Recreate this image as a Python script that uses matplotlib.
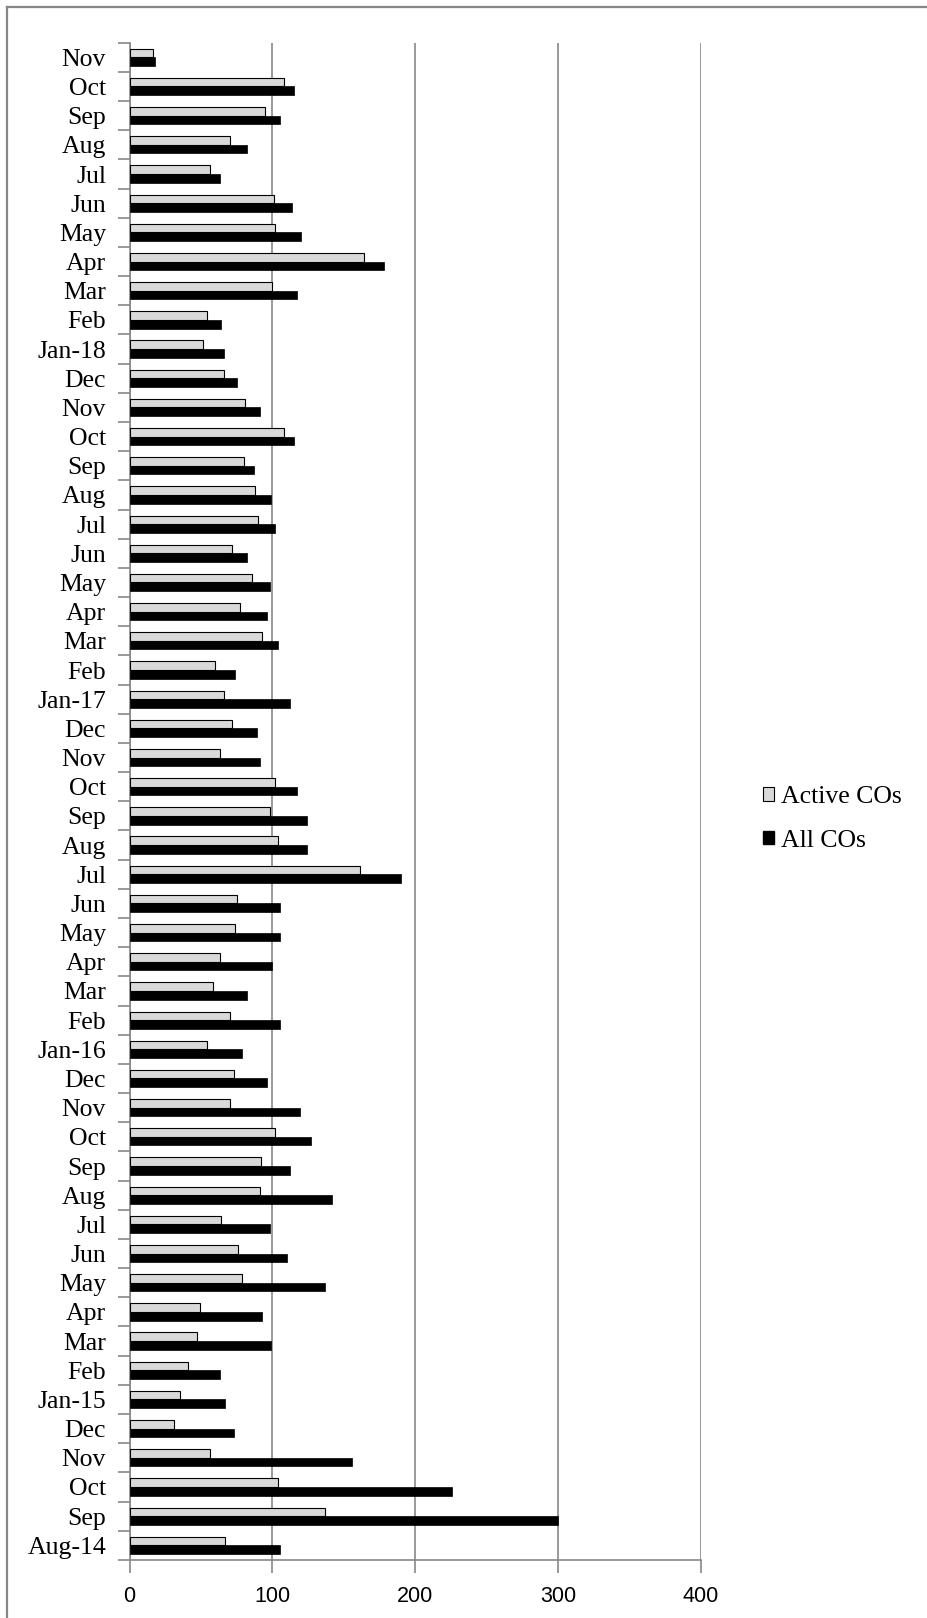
import numpy as np
import matplotlib.pyplot as plt
from matplotlib.lines import Line2D
from matplotlib.patches import Patch

# months from Aug-14 (bottom) to Nov-18 (top)
months = ['Aug-14', 'Sep', 'Oct', 'Nov', 'Dec',
          'Jan-15', 'Feb', 'Mar', 'Apr', 'May', 'Jun', 'Jul', 'Aug', 'Sep', 'Oct', 'Nov', 'Dec',
          'Jan-16', 'Feb', 'Mar', 'Apr', 'May', 'Jun', 'Jul', 'Aug', 'Sep', 'Oct', 'Nov', 'Dec',
          'Jan-17', 'Feb', 'Mar', 'Apr', 'May', 'Jun', 'Jul', 'Aug', 'Sep', 'Oct', 'Nov', 'Dec',
          'Jan-18', 'Feb', 'Mar', 'Apr', 'May', 'Jun', 'Jul', 'Aug', 'Sep', 'Oct', 'Nov']

active_cos = [67, 137, 104, 56, 31,
              35, 41, 47, 49, 79, 76, 64, 91, 92, 102, 70, 73,
              54, 70, 58, 63, 74, 75, 161, 104, 98, 102, 63, 72,
              66, 60, 93, 77, 86, 72, 90, 88, 80, 108, 81, 66,
              51, 54, 100, 164, 102, 101, 56, 70, 95, 108, 16]

all_cos = [105, 300, 226, 156, 73,
           67, 63, 99, 93, 137, 110, 98, 142, 112, 127, 119, 96,
           79, 105, 82, 100, 105, 105, 190, 124, 124, 117, 91, 89,
           112, 74, 104, 96, 98, 82, 102, 99, 87, 115, 91, 75,
           66, 64, 117, 178, 120, 114, 63, 82, 105, 115, 18]

x_ticks = [0, 100, 200, 300, 400]

serif = ['Liberation Serif', 'DejaVu Serif']
grid_col = '#878787'

fig = plt.figure(figsize=(9.27, 16.18), dpi=100)
ax = fig.add_axes([0.1399, 0.0359, 0.7560 - 0.1399, 0.9736 - 0.0359])

y = np.arange(len(months))
h = 0.295
ax.barh(y + h / 2, active_cos, height=h, color='#d9d9d9', edgecolor='black', linewidth=0.8, zorder=3)
ax.barh(y - h / 2, all_cos, height=h, color='black', edgecolor='black', linewidth=0.5, zorder=3)

ax.set_xlim(0, 400)
ax.set_ylim(-0.5, len(months) - 0.5)

# vertical gridlines
ax.set_xticks(x_ticks)
ax.xaxis.grid(True, color=grid_col, linewidth=1.2, zorder=0)
ax.set_axisbelow(True)

# category boundaries as major ticks, labels on minor ticks
ax.set_yticks(np.arange(len(months) + 1) - 0.5)
ax.set_yticklabels([])
ax.set_yticks(y, minor=True)
ax.set_yticklabels(months, minor=True, fontfamily=serif, fontsize=18.5)
ax.tick_params(axis='y', which='major', length=9, width=1.2, color=grid_col)
ax.tick_params(axis='y', which='minor', length=0, pad=17)
ax.tick_params(axis='x', length=9, width=1.2, color=grid_col, pad=10)
for lbl in ax.get_xticklabels():
    lbl.set_fontfamily(['Liberation Sans', 'DejaVu Sans'])
    lbl.set_fontsize(15.5)

for s in ['top', 'right']:
    ax.spines[s].set_visible(False)
for s in ['left', 'bottom']:
    ax.spines[s].set_color(grid_col)
    ax.spines[s].set_linewidth(1.2)

handles = [Patch(facecolor='#d9d9d9', edgecolor='black', linewidth=0.8),
           Patch(facecolor='black', edgecolor='black')]
fig.legend(handles, ['Active COs', 'All COs'], loc='center left',
           bbox_to_anchor=(0.798, 0.494), frameon=False,
           prop={'family': serif, 'size': 18.5},
           handlelength=0.45, handleheight=0.45, handletextpad=0.25, labelspacing=0.85)

# chart frame (left and top edges visible)
fig.add_artist(Line2D([7.5 / 927, 7.5 / 927], [0, 1 - 6.7 / 1618], transform=fig.transFigure,
                      color=grid_col, linewidth=1.6))
fig.add_artist(Line2D([7.5 / 927, 1], [1 - 6.7 / 1618, 1 - 6.7 / 1618], transform=fig.transFigure,
                      color=grid_col, linewidth=1.6))

plt.savefig('out.png', dpi=100)
